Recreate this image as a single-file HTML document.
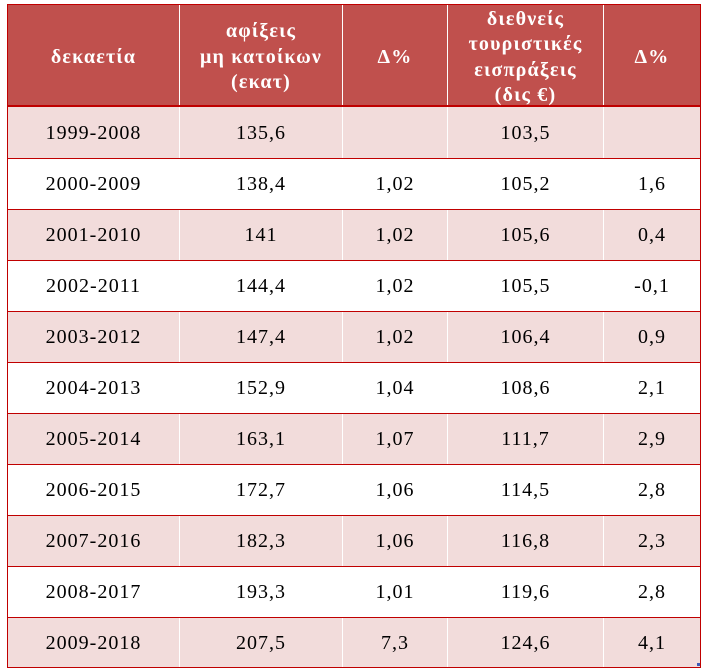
<!DOCTYPE html>
<html>
<head>
<meta charset="utf-8">
<style>
html,body{margin:0;padding:0;background:#fff;}
body{width:707px;height:671px;position:relative;overflow:hidden;font-family:"Liberation Serif","DejaVu Serif",serif;}
.box{position:absolute;left:7px;top:4px;width:694px;height:664px;border:1px solid #c00000;box-sizing:border-box;}
.hdr{position:absolute;left:8px;top:5px;width:692px;height:101px;background:#c0504d;}
.hline{position:absolute;left:8px;width:692px;height:2px;background:#c00000;top:105px;}
.row{position:absolute;left:8px;width:692px;height:51px;}
.pink{background:#f2dcdb;}
.rl{position:absolute;left:8px;width:692px;height:1px;background:#c00000;}
.vl{position:absolute;width:1px;background:#fff;}
.c{position:absolute;display:flex;align-items:center;justify-content:center;text-align:center;}
.h{color:#fff;font-weight:bold;font-size:20px;line-height:25.5px;letter-spacing:1.2px;}
.d{color:#000;font-size:20px;letter-spacing:1px;}
.mark{position:absolute;left:697px;top:663px;width:3px;height:3px;background:#3f5ab5;}
</style>
</head>
<body>
<div class="hdr"></div>

<div class="row pink" style="top:107px"></div>
<div class="row" style="top:158px"></div>
<div class="row pink" style="top:209px"></div>
<div class="row" style="top:260px"></div>
<div class="row pink" style="top:311px"></div>
<div class="row" style="top:362px"></div>
<div class="row pink" style="top:413px"></div>
<div class="row" style="top:464px"></div>
<div class="row pink" style="top:515px"></div>
<div class="row" style="top:566px"></div>
<div class="row pink" style="top:617px"></div>

<div class="vl" style="left:179px;top:5px;height:662px"></div>
<div class="vl" style="left:342px;top:5px;height:662px"></div>
<div class="vl" style="left:447px;top:5px;height:662px"></div>
<div class="vl" style="left:603px;top:5px;height:662px"></div>

<div class="hline"></div>
<div class="rl" style="top:158px"></div>
<div class="rl" style="top:209px"></div>
<div class="rl" style="top:260px"></div>
<div class="rl" style="top:311px"></div>
<div class="rl" style="top:362px"></div>
<div class="rl" style="top:413px"></div>
<div class="rl" style="top:464px"></div>
<div class="rl" style="top:515px"></div>
<div class="rl" style="top:566px"></div>
<div class="rl" style="top:617px"></div>

<div class="box"></div>

<!-- header -->
<div class="c h" style="left:8px;width:171px;top:7px;height:101px">δεκαετία</div>
<div class="c h" style="left:180px;width:162px;top:7px;height:101px">αφίξεις<br>μη κατοίκων<br>(εκατ)</div>
<div class="c h" style="left:343px;width:104px;top:7px;height:101px">Δ%</div>
<div class="c h" style="left:448px;width:155px;top:7px;height:101px">διεθνείς<br>τουριστικές<br>εισπράξεις<br>(δις €)</div>
<div class="c h" style="left:604px;width:96px;top:7px;height:101px">Δ%</div>

<!-- rows -->
<div class="c d" style="left:8px;width:171px;top:108px;height:51px">1999-2008</div>
<div class="c d" style="left:180px;width:162px;top:108px;height:51px">135,6</div>
<div class="c d" style="left:448px;width:155px;top:108px;height:51px">103,5</div>

<div class="c d" style="left:8px;width:171px;top:159px;height:51px">2000-2009</div>
<div class="c d" style="left:180px;width:162px;top:159px;height:51px">138,4</div>
<div class="c d" style="left:343px;width:104px;top:159px;height:51px">1,02</div>
<div class="c d" style="left:448px;width:155px;top:159px;height:51px">105,2</div>
<div class="c d" style="left:604px;width:96px;top:159px;height:51px">1,6</div>

<div class="c d" style="left:8px;width:171px;top:210px;height:51px">2001-2010</div>
<div class="c d" style="left:180px;width:162px;top:210px;height:51px">141</div>
<div class="c d" style="left:343px;width:104px;top:210px;height:51px">1,02</div>
<div class="c d" style="left:448px;width:155px;top:210px;height:51px">105,6</div>
<div class="c d" style="left:604px;width:96px;top:210px;height:51px">0,4</div>

<div class="c d" style="left:8px;width:171px;top:261px;height:51px">2002-2011</div>
<div class="c d" style="left:180px;width:162px;top:261px;height:51px">144,4</div>
<div class="c d" style="left:343px;width:104px;top:261px;height:51px">1,02</div>
<div class="c d" style="left:448px;width:155px;top:261px;height:51px">105,5</div>
<div class="c d" style="left:604px;width:96px;top:261px;height:51px">-0,1</div>

<div class="c d" style="left:8px;width:171px;top:312px;height:51px">2003-2012</div>
<div class="c d" style="left:180px;width:162px;top:312px;height:51px">147,4</div>
<div class="c d" style="left:343px;width:104px;top:312px;height:51px">1,02</div>
<div class="c d" style="left:448px;width:155px;top:312px;height:51px">106,4</div>
<div class="c d" style="left:604px;width:96px;top:312px;height:51px">0,9</div>

<div class="c d" style="left:8px;width:171px;top:363px;height:51px">2004-2013</div>
<div class="c d" style="left:180px;width:162px;top:363px;height:51px">152,9</div>
<div class="c d" style="left:343px;width:104px;top:363px;height:51px">1,04</div>
<div class="c d" style="left:448px;width:155px;top:363px;height:51px">108,6</div>
<div class="c d" style="left:604px;width:96px;top:363px;height:51px">2,1</div>

<div class="c d" style="left:8px;width:171px;top:414px;height:51px">2005-2014</div>
<div class="c d" style="left:180px;width:162px;top:414px;height:51px">163,1</div>
<div class="c d" style="left:343px;width:104px;top:414px;height:51px">1,07</div>
<div class="c d" style="left:448px;width:155px;top:414px;height:51px">111,7</div>
<div class="c d" style="left:604px;width:96px;top:414px;height:51px">2,9</div>

<div class="c d" style="left:8px;width:171px;top:465px;height:51px">2006-2015</div>
<div class="c d" style="left:180px;width:162px;top:465px;height:51px">172,7</div>
<div class="c d" style="left:343px;width:104px;top:465px;height:51px">1,06</div>
<div class="c d" style="left:448px;width:155px;top:465px;height:51px">114,5</div>
<div class="c d" style="left:604px;width:96px;top:465px;height:51px">2,8</div>

<div class="c d" style="left:8px;width:171px;top:516px;height:51px">2007-2016</div>
<div class="c d" style="left:180px;width:162px;top:516px;height:51px">182,3</div>
<div class="c d" style="left:343px;width:104px;top:516px;height:51px">1,06</div>
<div class="c d" style="left:448px;width:155px;top:516px;height:51px">116,8</div>
<div class="c d" style="left:604px;width:96px;top:516px;height:51px">2,3</div>

<div class="c d" style="left:8px;width:171px;top:567px;height:51px">2008-2017</div>
<div class="c d" style="left:180px;width:162px;top:567px;height:51px">193,3</div>
<div class="c d" style="left:343px;width:104px;top:567px;height:51px">1,01</div>
<div class="c d" style="left:448px;width:155px;top:567px;height:51px">119,6</div>
<div class="c d" style="left:604px;width:96px;top:567px;height:51px">2,8</div>

<div class="c d" style="left:8px;width:171px;top:618px;height:50px">2009-2018</div>
<div class="c d" style="left:180px;width:162px;top:618px;height:50px">207,5</div>
<div class="c d" style="left:343px;width:104px;top:618px;height:50px">7,3</div>
<div class="c d" style="left:448px;width:155px;top:618px;height:50px">124,6</div>
<div class="c d" style="left:604px;width:96px;top:618px;height:50px">4,1</div>

<div class="mark"></div>
</body>
</html>
